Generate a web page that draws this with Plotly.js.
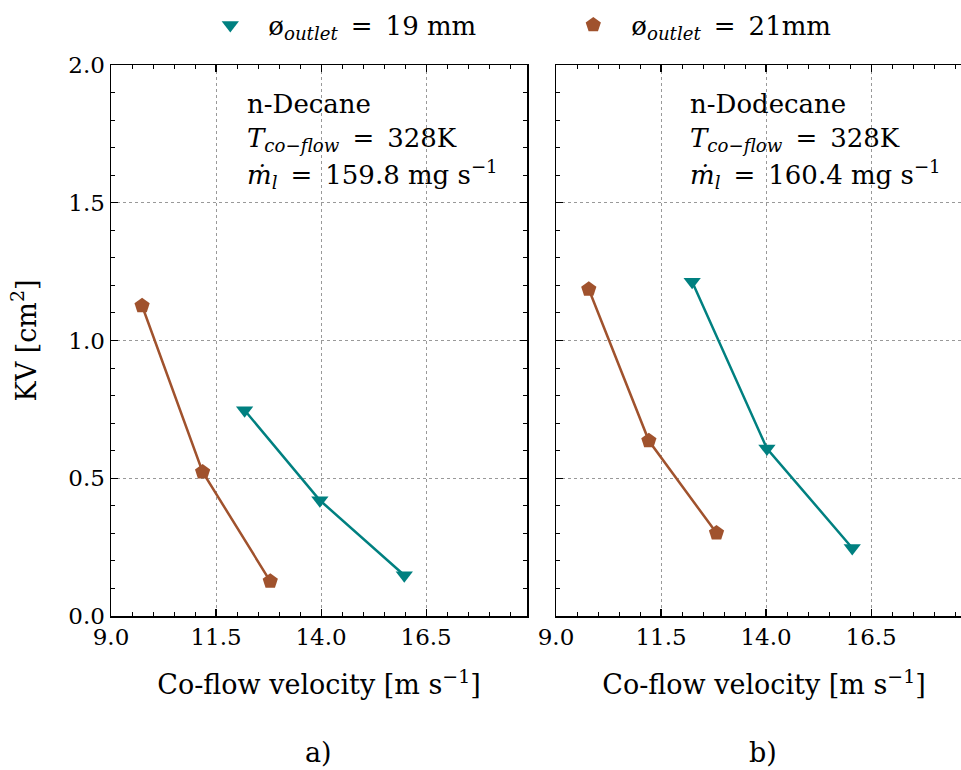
<!DOCTYPE html>
<html>
<head>
<meta charset="utf-8">
<script src="https://cdn.plot.ly/plotly-3.0.1.min.js"></script>
<style>
html, body { margin: 0; padding: 0; overflow: hidden; background: #fff; }
#chart { width: 980px; height: 770px; }
</style>
</head>
<body>
<div id="chart"></div>
<script>
// ---- data ----
const SP = "\u2002";
const seriesNames = ["ø<sub><i>outlet</i></sub>" + SP + "=" + SP + "19 mm", "ø<sub><i>outlet</i></sub>" + SP + "=" + SP + "21mm"];

// panel a) n-Decane
const decane19_x = [12.18, 13.97, 15.98];
const decane19_kv = [0.747, 0.420, 0.148];
const decane21_x = [9.74, 11.18, 12.79];
const decane21_kv = [1.126, 0.523, 0.126];

// panel b) n-Dodecane
const dodecane19_x = [12.24, 14.02, 16.05];
const dodecane19_kv = [1.213, 0.608, 0.247];
const dodecane21_x = [9.78, 11.21, 12.82];
const dodecane21_kv = [1.186, 0.636, 0.301];

const xTickVals = [9.0, 11.5, 14.0, 16.5];
const yTickVals = [0.0, 0.5, 1.0, 1.5, 2.0];

const panelLabels = ["a)", "b)"];
const fuelLines = [
  ["n-Decane", "<i>T</i><sub><i>co−flow</i></sub>" + SP + "=" + SP + "328K", "<i>ṁ</i><sub><i>l</i></sub>" + SP + "=" + SP + "159.8 mg s<sup>−1</sup>"],
  ["n-Dodecane", "<i>T</i><sub><i>co−flow</i></sub>" + SP + "=" + SP + "328K", "<i>ṁ</i><sub><i>l</i></sub>" + SP + "=" + SP + "160.4 mg s<sup>−1</sup>"]
];

// ---- styles ----
const TEAL = "#008080";
const BROWN = "#A0522D";
const FONT = "DejaVu Serif, Liberation Serif, serif";

function lineTrace(x, y, color, xa, ya) {
  return { x: x, y: y, xaxis: xa, yaxis: ya, mode: "lines", type: "scatter",
    line: { color: color, width: 2.5 }, showlegend: false, hoverinfo: "skip" };
}
function markerTrace(x, y, color, symbol, name, xa, ya, showleg, leg) {
  return { x: x, y: y, xaxis: xa, yaxis: ya, mode: "markers", type: "scatter",
    name: name, showlegend: showleg, legend: leg,
    marker: { color: color, symbol: symbol, size: symbol === "triangle-down" ? 15 : 16,
      line: { width: 0 } } };
}

const traces = [
  lineTrace(decane19_x, decane19_kv, TEAL, "x", "y"),
  lineTrace(decane21_x, decane21_kv, BROWN, "x", "y"),
  lineTrace(dodecane19_x, dodecane19_kv, TEAL, "x2", "y2"),
  lineTrace(dodecane21_x, dodecane21_kv, BROWN, "x2", "y2"),
  markerTrace(decane19_x, decane19_kv, TEAL, "triangle-down", seriesNames[0], "x", "y", true, "legend"),
  markerTrace(decane21_x, decane21_kv, BROWN, "pentagon", seriesNames[1], "x", "y", true, "legend2"),
  markerTrace(dodecane19_x, dodecane19_kv, TEAL, "triangle-down", seriesNames[0], "x2", "y2", false, "legend"),
  markerTrace(dodecane21_x, dodecane21_kv, BROWN, "pentagon", seriesNames[1], "x2", "y2", false, "legend2")
];

const W = 980, H = 770;
const mL = 110.7, mR = W - 971.7, mT = 65, mB = H - 615.7;
const plotW = W - mL - mR;
const plotH = H - mT - mB;
const leftEnd = (526.7 - mL) / plotW;
const rightStart = (555.7 - mL) / plotW;
const px2x = p => (p - mL) / plotW;
const py2y = p => 1 - (p - mT) / plotH;

const tickFont = { family: FONT, size: 23, color: "#000" };
const titleFont = { family: FONT, size: 27, color: "#000" };
const textFont = { family: FONT, size: 26, color: "#000" };

function xAxis(domain, anchor) {
  return {
    domain: domain, anchor: anchor, range: [9, 18.9],
    tickmode: "array", tickvals: xTickVals, tickformat: ".1f",
    ticks: "inside", ticklen: 7, tickwidth: 1.2, tickcolor: "#000",
    minor: { dtick: 0.5, tick0: 9, ticks: "inside", ticklen: 4, tickwidth: 1, tickcolor: "#000", showgrid: false },
    showline: true, linecolor: "#000", linewidth: 1.5, mirror: "allticks",
    showgrid: true, gridcolor: "#999", griddash: "dot", gridwidth: 1,
    zeroline: false,
    tickfont: tickFont,
    title: { text: "Co-flow velocity [m s<sup>−1</sup>]", font: titleFont, standoff: 26 }
  };
}
function yAxis(anchor, labels) {
  return {
    domain: [0, 1], anchor: anchor, range: [0, 2.0],
    tickmode: "array", tickvals: yTickVals, tickformat: ".1f", showticklabels: labels,
    ticks: "inside", ticklen: 7, tickwidth: 1.2, tickcolor: "#000",
    minor: { dtick: 0.1, tick0: 0, ticks: "inside", ticklen: 4, tickwidth: 1, tickcolor: "#000", showgrid: false },
    showline: true, linecolor: "#000", linewidth: 1.5, mirror: "allticks",
    showgrid: true, gridcolor: "#999", griddash: "dot", gridwidth: 1,
    zeroline: false,
    tickfont: tickFont
  };
}

const annotations = [];
const annX = [245, 688];
const annYs = [104, 139, 174];
for (let p = 0; p < 2; p++) {
  for (let i = 0; i < 3; i++) {
    annotations.push({
      xref: "paper", yref: "paper", x: px2x(annX[p]), y: py2y(annYs[i]),
      xanchor: "left", yanchor: "middle", showarrow: false,
      text: fuelLines[p][i], font: textFont
    });
  }
  annotations.push({
    xref: "paper", yref: "paper", x: px2x([318, 763][p]), y: py2y(752),
    xanchor: "center", yanchor: "middle", showarrow: false,
    text: panelLabels[p], font: titleFont
  });
}

function legendAt(px) {
  return {
    orientation: "h", xref: "paper", yref: "paper",
    x: px2x(px), y: py2y(25), xanchor: "left", yanchor: "middle",
    font: textFont, bgcolor: "rgba(0,0,0,0)", itemwidth: 66
  };
}

const yA = yAxis("x", true);
yA.title = { text: "KV [cm<sup>2</sup>]", font: titleFont, standoff: 24 };
const yB = yAxis("x2", false);
yB.matches = "y";

const layout = {
  width: W, height: H,
  margin: { l: mL, r: mR, t: mT, b: mB, pad: 0, autoexpand: false },
  paper_bgcolor: "#fff", plot_bgcolor: "#fff",
  font: tickFont,
  showlegend: true,
  legend: legendAt(192),
  legend2: legendAt(555),
  xaxis: xAxis([0, leftEnd], "y"),
  xaxis2: xAxis([rightStart, 1], "y2"),
  yaxis: yA,
  yaxis2: yB,
  annotations: annotations
};

Plotly.newPlot("chart", traces, layout, { displayModeBar: false, staticPlot: true });
</script>
</body>
</html>
